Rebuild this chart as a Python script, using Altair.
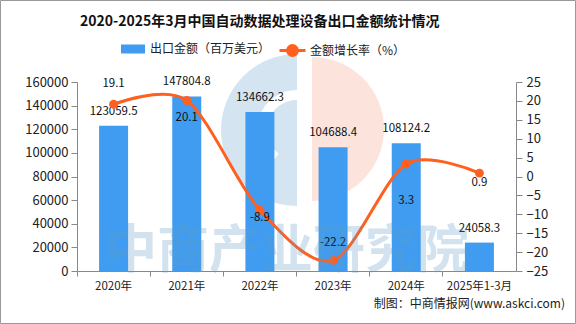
import altair as alt
import pandas as pd

categories = ["2020年", "2021年", "2022年", "2023年", "2024年", "2025年1-3月"]
export_values = [123059.5, 147804.8, 134662.3, 104688.4, 108124.2, 24058.3]
growth_rates = [19.1, 20.1, -8.9, -22.2, 3.3, 0.9]
left_ticks = [0, 20000, 40000, 60000, 80000, 100000, 120000, 140000, 160000]
right_ticks = [-25, -20, -15, -10, -5, 0, 5, 10, 15, 20, 25]

BAR_NAME = "出口金额（百万美元）"
LINE_NAME = "金额增长率（%）"
BLUE = "#3f9cf0"
ORANGE = "#ff5f1f"
FONT = "Noto Sans CJK SC"

df = pd.DataFrame({
    "cat": categories,
    "export": export_values,
    "growth": growth_rates,
    "export_label": [f"{v:.1f}" for v in export_values],
    "growth_label": [f"{v:.1f}" for v in growth_rates],
})
one = pd.DataFrame({"a": [0]})

W, H = 439, 189
PL, PT = 77, 82

x_enc = alt.X("cat:N", sort=categories, title=None,
              scale=alt.Scale(paddingInner=0, paddingOuter=0),
              axis=alt.Axis(labelAngle=0, bandPosition=0, tickSize=5, labelPadding=4,
                            labelFont=FONT, labelFontSize=11.5, labelColor="#222",
                            domainColor="#888", tickColor="#888", grid=False))

y_bar = alt.Y("export:Q", title=None,
              scale=alt.Scale(domain=[0, 160000], nice=False),
              axis=alt.Axis(values=left_ticks, format="d", tickSize=6, labelPadding=3,
                            labelFont=FONT, labelFontSize=13, labelColor="#222",
                            domainColor="#888", tickColor="#888", grid=False))

y_line = alt.Y("growth:Q", title=None, scale=alt.Scale(domain=[-25, 25], nice=False),
               axis=alt.Axis(orient="right", values=right_ticks, tickSize=6, labelPadding=4,
                             labelFont=FONT, labelFontSize=13, labelColor="#222",
                             domainColor="#888", tickColor="#888", grid=False))

bars = alt.Chart(df).mark_bar(size=29).encode(
    x=x_enc,
    y=y_bar,
    fill=alt.Fill("series:N", scale=alt.Scale(domain=[BAR_NAME], range=[BLUE]),
                  legend=alt.Legend(orient="none", legendX=44, legendY=-45, title=None,
                                    padding=0, symbolType="M-1,-0.375H1V0.375H-1Z",
                                    symbolSize=576, symbolStrokeWidth=0, labelOffset=5,
                                    labelFont=FONT, labelFontSize=12, labelColor="#222")),
).transform_calculate(series=f"'{BAR_NAME}'")

bar_text = alt.Chart(df).mark_text(dy=-14, baseline="middle", font=FONT, fontSize=11.5,
                                    color="#111").encode(
    x=x_enc,
    y=y_bar,
    text="export_label:N",
)

bar_layer = alt.layer(bars, bar_text)

line = alt.Chart(df).mark_line(strokeWidth=3, interpolate="cardinal", tension=0.1).encode(
    x=x_enc,
    y=y_line,
    stroke=alt.Stroke("series:N", scale=alt.Scale(domain=[LINE_NAME], range=[ORANGE]),
                      legend=alt.Legend(orient="none", legendX=201, legendY=-46, title=None,
                                        padding=0,
                                        symbolType="M-1,0H1M0.38,0A0.38,0.38 0 1,1 -0.38,0A0.38,0.38 0 1,1 0.38,0Z",
                                        symbolSize=676, symbolStrokeWidth=3,
                                        symbolFillColor=ORANGE, labelOffset=3,
                                        labelFont=FONT, labelFontSize=12, labelColor="#222")),
).transform_calculate(series=f"'{LINE_NAME}'")

points = alt.Chart(df).mark_point(filled=True, size=80, color=ORANGE, opacity=1).encode(
    x=x_enc,
    y=y_line,
)

def gtext(cat_list, dy):
    return alt.Chart(df).transform_filter(
        alt.FieldOneOfPredicate(field="cat", oneOf=cat_list)
    ).mark_text(dy=dy, baseline="middle", font=FONT, fontSize=11.5, color="#111").encode(
        x=x_enc,
        y=y_line,
        text="growth_label:N",
    )

line_layer = alt.layer(
    line, points,
    gtext(["2020年"], -20),
    gtext(["2021年"], 17),
    gtext(["2022年"], 8),
    gtext(["2023年"], -17),
    gtext(["2024年"], 37),
    gtext(["2025年1-3月"], 10),
)

# faint logo watermark (behind the data)
logo_blue = alt.Chart(one).mark_arc(
    theta=3.14159, theta2=6.28318, radius=76, radius2=0,
    color="#5f9cc8", opacity=0.27
).encode(x=alt.value(220), y=alt.value(48))
logo_slit = alt.Chart(one).mark_arc(
    theta=3.8, theta2=6.28318, radius=40, radius2=30,
    color="#ffffff", opacity=1
).encode(x=alt.value(220), y=alt.value(48))
logo_orange = alt.Chart(one).mark_arc(
    theta=0, theta2=3.14159, radius=72, radius2=0,
    color="#f07850", opacity=0.2
).encode(x=alt.value(235), y=alt.value(47))

watermark = alt.Chart(one).mark_text(
    text="中商产业研究院", font=FONT, fontSize=52, fontWeight="bold",
    color="#5f9cc8", opacity=0.28, align="center", baseline="middle"
).encode(x=alt.value(210), y=alt.value(170))

title = alt.Chart(one).mark_text(
    text="2020-2025年3月中国自动数据处理设备出口金额统计情况", font=FONT, fontSize=14,
    fontWeight="bold", color="#111", align="left", baseline="middle"
).encode(x=alt.value(3), y=alt.value(-60))

source = alt.Chart(one).mark_text(
    text="制图：中商情报网(www.askci.com)", font=FONT, fontSize=12,
    color="#222", align="right", baseline="middle"
).encode(x=alt.value(488), y=alt.value(222))

border = alt.Chart(one).mark_rect(fill=None, stroke="#999", strokeWidth=1).encode(
    x=alt.value(-PL + 0.5), x2=alt.value(576 - PL - 0.5),
    y=alt.value(-PT + 0.5), y2=alt.value(324 - PT - 0.5),
)

chart = alt.layer(logo_blue, logo_slit, logo_orange, bar_layer, line_layer, watermark,
                  title, source, border).resolve_scale(
    y="independent", fill="independent", stroke="independent"
).properties(
    width=W, height=H,
    autosize=alt.AutoSizeParams(type="none"),
    padding={"left": PL, "top": PT, "right": 576 - PL - W, "bottom": 324 - PT - H},
    background="white",
).configure_view(stroke=None)

chart.save("out.html", embed_options={"renderer": "svg", "actions": False})
